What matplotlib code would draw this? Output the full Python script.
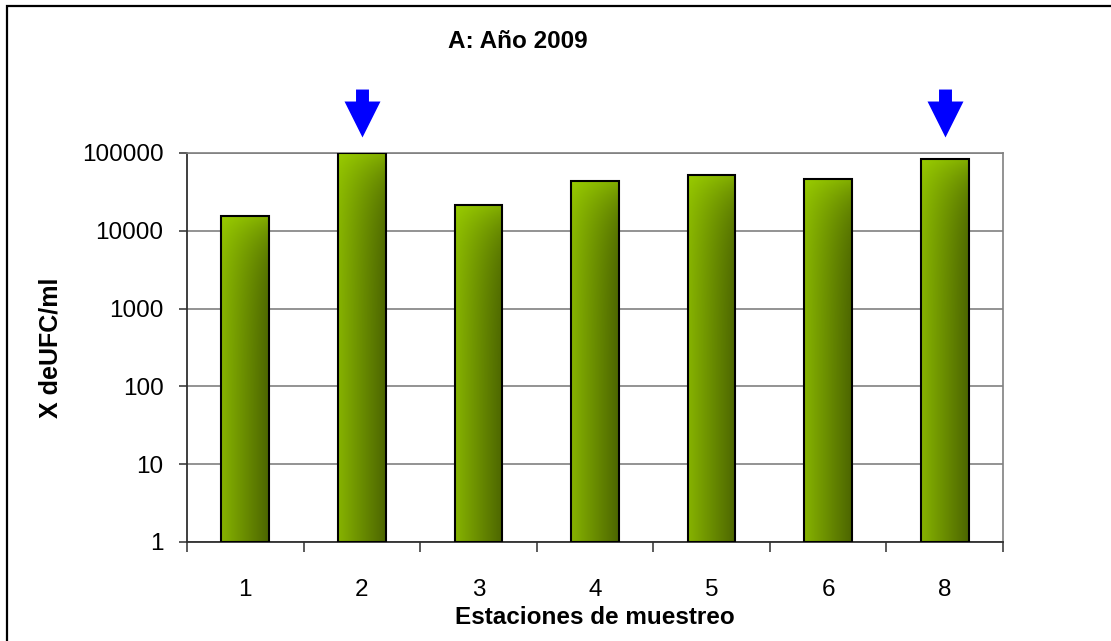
import numpy as np
import matplotlib
matplotlib.use("Agg")
import matplotlib.pyplot as plt
from matplotlib.path import Path
from matplotlib.patches import Rectangle
import matplotlib.transforms as mtransforms

plt.rcParams['font.family'] = ['Liberation Sans', 'DejaVu Sans']

# Data
estaciones = ['1', '2', '3', '4', '5', '6', '8']
ufc_ml = [15300, 99000, 21200, 44300, 52200, 46400, 83800]
marcadas = ['2', '8']
y_ticks = [1, 10, 100, 1000, 10000, 100000]
y_tick_labels = ['1', '10', '100', '1000', '10000', '100000']

titulo = 'A: Año 2009'
eje_x = 'Estaciones de muestreo'
eje_y = 'X deUFC/ml'

W, H = 1111, 641
fig = plt.figure(figsize=(W / 100, H / 100), dpi=100)
fig.patch.set_facecolor('white')

# Outer frame of the chart object (left and top edges visible)
fig.add_artist(Rectangle((7 / W, -0.1), 1.2, 1.1 - 6 / H,
                         transform=fig.transFigure, fill=False,
                         edgecolor='black', linewidth=1.6))

ax = fig.add_axes([187 / W, 1 - 542 / H, (1003 - 187) / W, (542 - 153) / H])
ax.set_yscale('log')

x = np.arange(len(estaciones))
bar_w = 0.41

# Gradient fill: light lime at top-left to dark olive at bottom-right
light = np.array([153, 204, 0]) / 255
dark = np.array([76, 101, 0]) / 255
u = np.linspace(0, 1, 64)[None, :]
v = np.linspace(0, 1, 256)[:, None]
t = 0.27 * u + 0.25 * v + 0.48 * u * v
grad = light[None, None, :] * (1 - t[..., None]) + dark[None, None, :] * t[..., None]

bars = ax.bar(x, ufc_ml, width=bar_w, bottom=1, facecolor='none',
              edgecolor='black', linewidth=1.5, zorder=4)
for rect, val in zip(bars, ufc_ml):
    x0 = rect.get_x()
    img = ax.imshow(grad, extent=(x0, x0 + bar_w, 1, val), origin='upper',
                    aspect='auto', zorder=3, interpolation='bilinear')
    img.set_clip_path(rect)
ax.set_xlim(-0.5, len(estaciones) - 0.5)
ax.set_ylim(1, 100000)

# Grid and frame
ax.set_yticks(y_ticks)
ax.set_yticklabels(y_tick_labels)
ax.yaxis.set_minor_locator(matplotlib.ticker.NullLocator())
ax.grid(axis='y', which='major', color='#808080', linewidth=1.2, zorder=1)
ax.set_axisbelow(True)
for side in ['top', 'right']:
    ax.spines[side].set_color('#808080')
    ax.spines[side].set_linewidth(1.2)
for side in ['left', 'bottom']:
    ax.spines[side].set_color('#303030')
    ax.spines[side].set_linewidth(1.3)

ax.set_xticks(x)
ax.set_xticklabels(estaciones)
ax.set_xticks(np.arange(-0.5, len(estaciones)), minor=True)
ax.tick_params(axis='x', which='major', length=0, pad=27, labelsize=17.5)
ax.tick_params(axis='x', which='minor', length=7, width=1.2, color='#404040',
               direction='out')
ax.tick_params(axis='y', which='major', length=6, width=1.2, color='#404040',
               direction='out', pad=11, labelsize=17.5)

ax.set_xlabel(eje_x, fontsize=17.5, fontweight='bold')
ax.xaxis.set_label_coords(0.5, (542 - 617) / 389)
ax.xaxis.label.set_va('center')
ax.set_ylabel(eje_y, fontsize=18, fontweight='bold')
ax.yaxis.set_label_coords((50 - 187) / 816, 0.5)
ax.yaxis.label.set_va('center')

ax.text((518 - 187) / 816, (542 - 41) / 389, titulo, transform=ax.transAxes,
        ha='center', va='center', fontsize=17.5, fontweight='bold')

# Blue down-arrows above the marked stations
arrow = Path([(-0.135, 0.5), (0.135, 0.5), (0.135, 0.25), (0.375, 0.25),
              (0.0, -0.5), (-0.375, 0.25), (-0.135, 0.25), (-0.135, 0.5)],
             closed=True)
blend = mtransforms.blended_transform_factory(ax.transData, ax.transAxes)
for est in marcadas:
    i = estaciones.index(est)
    ax.plot([x[i]], [1 + (153 - 113) / 389], marker=arrow, markersize=34.5,
            color='#0000ff', markeredgewidth=0, transform=blend, clip_on=False,
            zorder=5)

fig.savefig('out.png', dpi=100)
